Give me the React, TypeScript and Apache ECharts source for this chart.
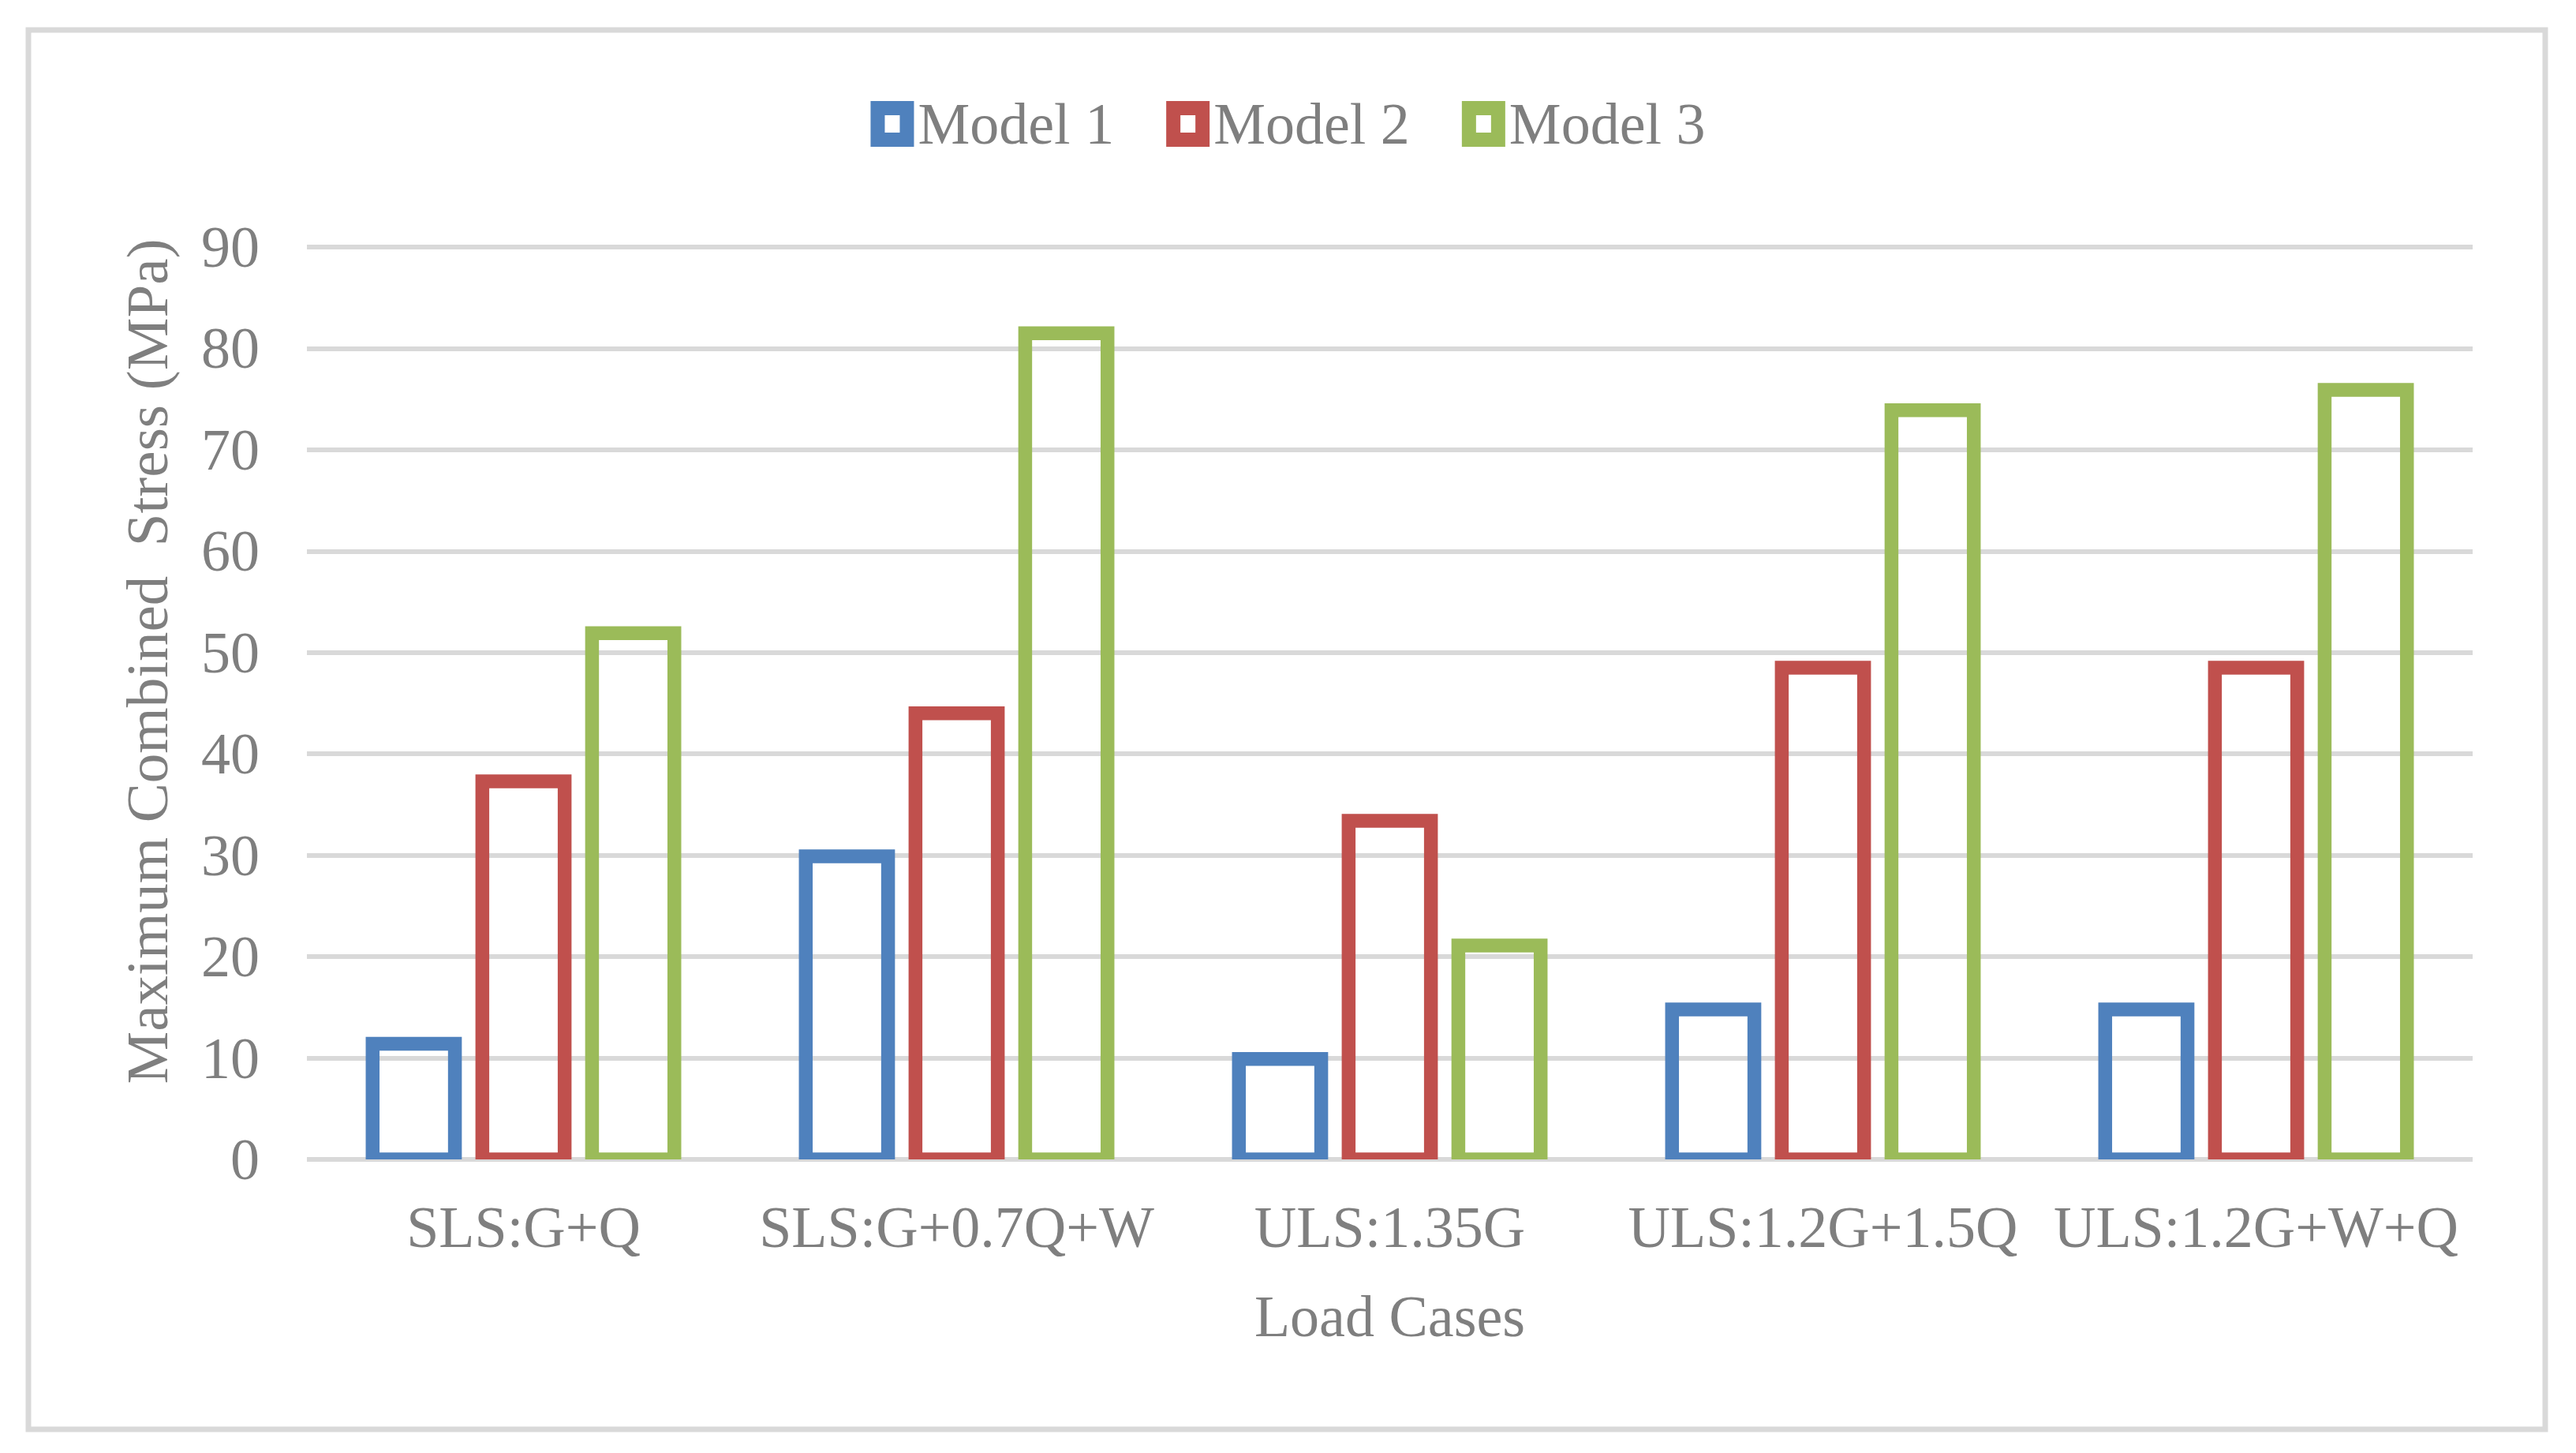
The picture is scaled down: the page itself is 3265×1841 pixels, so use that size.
import React, { useEffect, useRef } from "react";
import * as echarts from "echarts";

const categories = ["SLS:G+Q", "SLS:G+0.7Q+W", "ULS:1.35G", "ULS:1.2G+1.5Q", "ULS:1.2G+W+Q"];
const seriesNames = ["Model 1", "Model 2", "Model 3"];
const model1 = [11.4, 29.9, 9.9, 14.8, 14.8];
const model2 = [37.3, 44.0, 33.4, 48.5, 48.5];
const model3 = [51.9, 81.5, 21.1, 73.9, 75.9];
const colors = ["#4f81bd", "#c0504d", "#9bbb59"];
const yTitle = "Maximum Combined  Stress (MPa)";
const xTitle = "Load Cases";

const FONT = "'Liberation Serif', 'Times New Roman', serif";
const TEXT = "#7f7f7f";
const GRID = "#d9d9d9";
const ICON = "path://M0,0L55,0L55,58L0,58Z M18,18L18,40L37,40L37,18Z";

// bar layout as fractions of the category band
const BAR_W = 0.19;
const BAR_STEP = 0.2533;

export default function App() {
  const ref = useRef<HTMLDivElement>(null);
  useEffect(() => {
    if (!ref.current) return;
    const chart = echarts.init(ref.current, undefined, { renderer: "svg" });
    const values = [model1, model2, model3];
    chart.setOption({
      animation: false,
      backgroundColor: "#ffffff",
      graphic: [
        {
          type: "rect",
          shape: { x: 36, y: 38, width: 3190, height: 1773 },
          style: { fill: "none", stroke: GRID, lineWidth: 7 },
          silent: true,
        },
        {
          type: "text",
          x: 186,
          y: 838,
          rotation: Math.PI / 2,
          style: {
            text: yTitle,
            font: `75px ${FONT}`,
            fill: TEXT,
            align: "center",
            verticalAlign: "middle",
          },
          silent: true,
        },
      ],
      legend: {
        top: 115,
        left: "center",
        itemWidth: 55,
        itemHeight: 58,
        itemGap: 66,
        textStyle: { fontFamily: FONT, fontSize: 74, color: TEXT },
        data: seriesNames.map((n, i) => ({
          name: n,
          icon: ICON,
          itemStyle: { color: colors[i], borderWidth: 0 },
        })),
      },
      grid: { left: 389, right: 131, top: 313, bottom: 372 },
      xAxis: {
        type: "category",
        data: categories,
        name: xTitle,
        nameLocation: "middle",
        nameGap: 162,
        nameTextStyle: { fontFamily: FONT, fontSize: 74, color: TEXT },
        axisLine: { show: false },
        axisTick: { show: false },
        axisLabel: { fontFamily: FONT, fontSize: 74, color: TEXT, margin: 49, interval: 0 },
      },
      yAxis: {
        type: "value",
        min: 0,
        max: 90,
        interval: 10,
        axisLine: { show: false },
        axisTick: { show: false },
        axisLabel: { fontFamily: FONT, fontSize: 74, color: TEXT, margin: 60 },
        splitLine: { lineStyle: { color: GRID, width: 6 } },
      },
      series: seriesNames.map((n, i) => ({
        name: n,
        type: "custom",
        clip: true,
        encode: { x: 0, y: 1 },
        data: values[i].map((v, k) => [k, v]),
        renderItem: (params: any, api: any) => {
          const idx = api.value(0);
          const val = api.value(1);
          const base = api.coord([idx, 0]);
          const top = api.coord([idx, val]);
          const band = api.size([1, 0])[0];
          const w = band * BAR_W;
          const cx = base[0] + (i - 1) * band * BAR_STEP;
          return {
            type: "rect",
            shape: { x: cx - w / 2, y: top[1], width: w, height: base[1] - top[1] },
            style: { fill: "none", stroke: colors[i], lineWidth: 17.5 },
          };
        },
      })),
    });
    return () => chart.dispose();
  }, []);
  return (
    <div
      ref={ref}
      style={{ position: "absolute", left: 0, top: 0, width: "3265px", height: "1841px" }}
    />
  );
}
